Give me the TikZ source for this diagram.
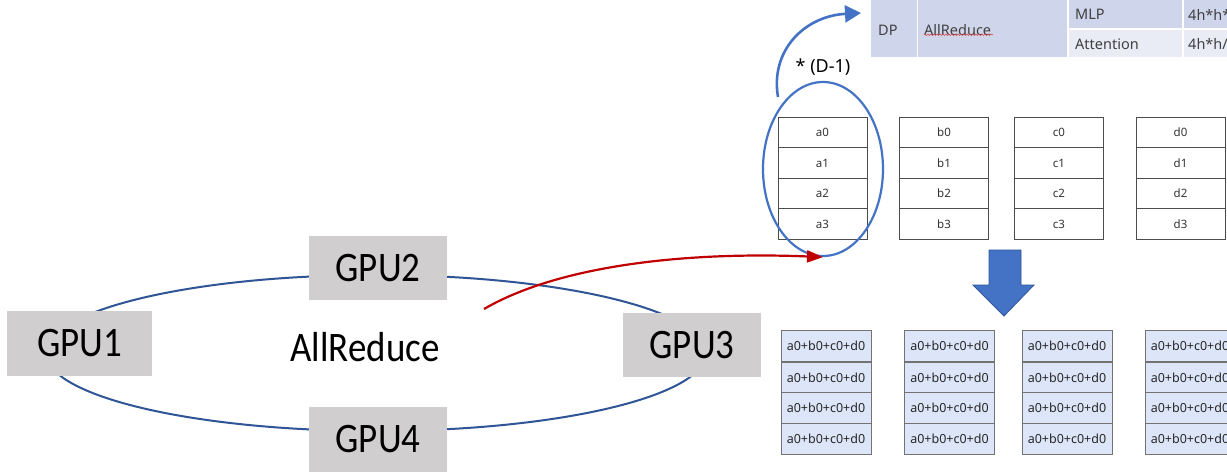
\documentclass[tikz,border=0pt]{standalone}
\usepackage{fontspec}
\setmainfont{Carlito}
\newfontfamily\gpufont[FakeStretch=0.88]{Carlito}
\newfontfamily\cellfont{Noto Sans}
\usetikzlibrary{arrows.meta,shapes.geometric,decorations.pathmorphing}
\definecolor{ringblue}{HTML}{2F5597}
\definecolor{accblue}{HTML}{4472C4}
\definecolor{gpugray}{HTML}{D0CECE}
\definecolor{tabdark}{HTML}{CFD5EA}
\definecolor{tablight}{HTML}{E9EBF5}
\definecolor{celltxt}{HTML}{404040}
\definecolor{sumfill}{HTML}{DCE6F8}
\definecolor{darkred}{HTML}{C00000}
\tikzset{
  gpubox/.style={fill=gpugray, inner sep=0pt, font=\gpufont\fontsize{42}{44}\selectfont},
  ring/.style={draw=ringblue, line width=2pt},
  tabcell/.style={inner sep=0pt, text=celltxt, font=\cellfont\fontsize{14.5}{16}\selectfont},
  valcell/.style={draw=black!70, line width=0.8pt, minimum width=89pt, minimum height=30.5pt, inner sep=0pt, text=black!80, font=\cellfont\fontsize{11.5}{13}\selectfont},
  sumcell/.style={draw=black!55, fill=sumfill, line width=0.8pt, minimum width=90pt, minimum height=31pt, inner sep=0pt, text=black!85, font=\cellfont\fontsize{12.5}{14}\selectfont},
  redarrow/.style={draw=darkred, line width=2.2pt, -{Triangle[length=16pt,width=12pt]}},
  bluearrow/.style={draw=accblue, line width=2.6pt, -{Triangle[length=16pt,width=17pt]}},
  grpring/.style={draw=accblue, line width=2.2pt, ellipse, minimum width=120pt, minimum height=174pt, inner sep=0pt},
}
\begin{document}
\begin{tikzpicture}[x=1pt,y=-1pt]
\useasboundingbox (0,0) rectangle (1227,472);
\clip (0,0) rectangle (1227,472);
\fill[white] (0,0) rectangle (1227,472);

% ring
\draw[ring] (376,353) ellipse [x radius=330pt, y radius=78pt];
\node[gpubox, minimum width=145pt, minimum height=65pt] (g1) at (79.5,343.5) {GPU1};
\node[gpubox, minimum width=138pt, minimum height=64pt] (g2) at (378,268) {GPU2};
\node[gpubox, minimum width=138pt, minimum height=64pt] (g3) at (692,345) {GPU3};
\node[gpubox, minimum width=138pt, minimum height=65pt] (g4) at (378,439.5) {GPU4};
\node[font=\gpufont\fontsize{42}{44}\selectfont, inner sep=0pt] (ar) at (365,347) {AllReduce};

% top table
\fill[tabdark] (871,0) rectangle (1227,29);
\fill[tabdark] (871,29) rectangle (1068,57);
\fill[tablight] (1068,29) rectangle (1227,57);
\draw[white, line width=1.5pt] (917.5,0) -- (917.5,57) (1068,0) -- (1068,57) (1183,0) -- (1183,57) (1068,29) -- (1227,29);
\node[tabcell, anchor=west] (dp) at (878,30) {DP};
\node[tabcell, anchor=west] (tar) at (924,30) {AllReduce};
\draw[darkred!70, line width=0.6pt, decorate, decoration={snake, amplitude=0.7pt, segment length=3pt}] (tar.south west) ++(0,-1) -- ++(69,0);
\node[tabcell, anchor=west] (mlp) at (1075,14.5) {MLP};
\node[tabcell, anchor=west] (att) at (1075,44) {Attention};
\node[tabcell, anchor=west] (v1) at (1188,14.5) {4h*h*};
\node[tabcell, anchor=west] (v2) at (1188,44) {4h*h/};

% value cells
\foreach \c/\x in {a/822.5,b/944,c/1059,d/1180.5}{
  \foreach \r/\y in {0/132.5,1/163,2/193.5,3/224}{
    \node[valcell] (\c\r) at (\x,\y) {\c\r};
  }
}

% group ellipse and arrows
\node[grpring] (grp) at (823,169) {};
\coordinate (rs) at (484,309);
\draw[redarrow] (rs) .. controls (565,262) and (700,252) .. (grp.south);
\coordinate (bs) at (778,97);
\coordinate (bt) at (861,13);
\draw[bluearrow] (bs) .. controls (770,50) and (805,16) .. (bt);
\node[font=\cellfont\fontsize{18}{20}\selectfont, inner sep=0pt] (dm) at (823,67) {* (D-1)};

% down arrow
\draw[fill=accblue, draw=ringblue, line width=0.8pt] (989,250) -- (1021,250) -- (1021,285) -- (1034,285) -- (1004,316) -- (973,285) -- (989,285) -- cycle;

% sum cells
\foreach \k/\x in {1/826,2/949.5,3/1067,4/1190}{
  \foreach \r/\y in {0/346,1/377.5,2/408,3/438.5}{
    \node[sumcell] (s\k\r) at (\x,\y) {a0+b0+c0+d0};
  }
}
\end{tikzpicture}
\end{document}
